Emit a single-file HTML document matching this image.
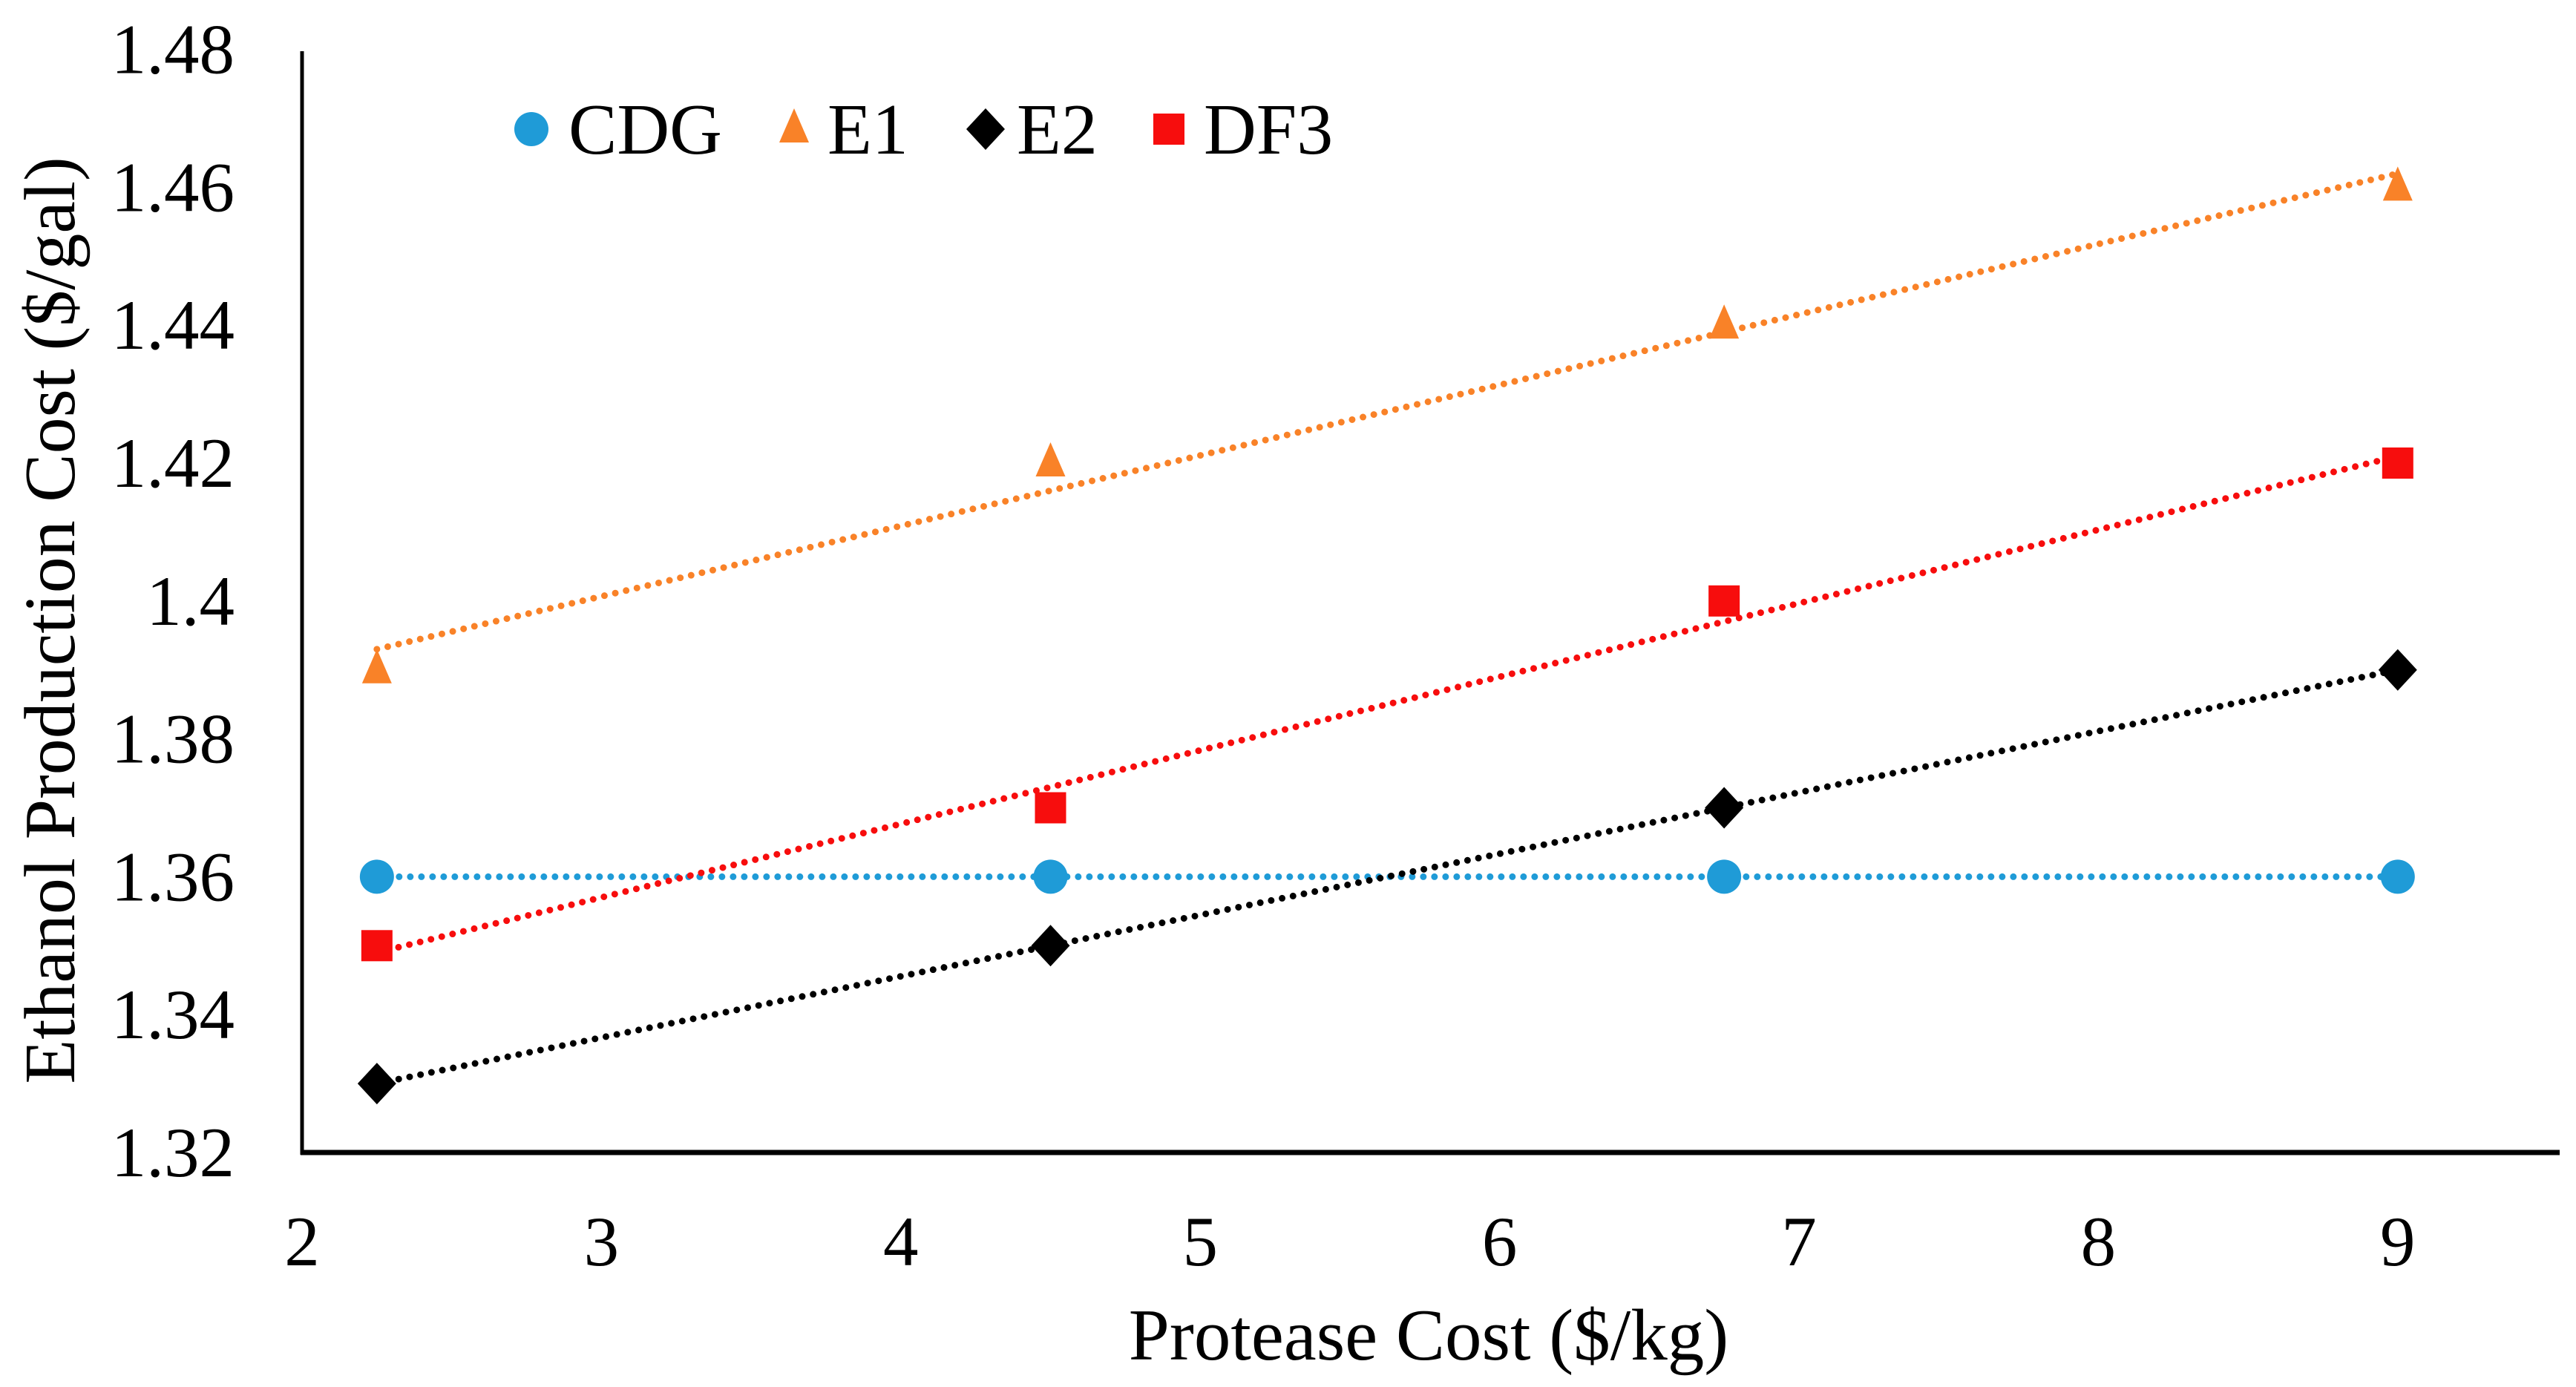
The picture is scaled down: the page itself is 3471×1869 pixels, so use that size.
<!DOCTYPE html>
<html><head><meta charset="utf-8"><style>
html,body{margin:0;padding:0;background:#fff;}
svg{display:block;font-family:"Liberation Serif",serif;}
</style></head><body>
<svg id="chart" width="3471" height="1869" viewBox="0 0 3471 1869" xmlns="http://www.w3.org/2000/svg">
</svg>
<script>
const xValues = [2.25, 4.5, 6.75, 9];
const cdg = [1.36, 1.36, 1.36, 1.36];
const e1 = [1.39, 1.42, 1.44, 1.46];
const e2 = [1.33, 1.35, 1.37, 1.39];
const df3 = [1.35, 1.37, 1.40, 1.42];
const xTicks = [2,3,4,5,6,7,8,9];
const yTicks = ["1.32","1.34","1.36","1.38","1.4","1.42","1.44","1.46","1.48"];

const NS="http://www.w3.org/2000/svg";
const svg=document.getElementById('chart');
const X0=407, XU=403.4, YB=1553, YMIN=1.32, YU=185.8/0.02;
const xs=v=>X0+(v-2)*XU;
const ys=v=>YB-(v-YMIN)*YU;
function mk(tag,attrs,parent){const e=document.createElementNS(NS,tag);for(const k in attrs)e.setAttribute(k,attrs[k]);(parent||svg).appendChild(e);return e;}

let ya=mk('line',{x1:X0,y1:69,x2:X0,y2:YB+3,stroke:'#000','stroke-width':5});


let xa=mk('line',{x1:X0-2,y1:YB,x2:3449,y2:YB,stroke:'#000','stroke-width':7});



yTicks.forEach(t=>{
  const e=mk('text',{x:316,y:ys(parseFloat(t))+32,'text-anchor':'end','font-size':95});
  e.textContent=t;
  
  
});
xTicks.forEach(t=>{
  const e=mk('text',{x:xs(t),y:1705,'text-anchor':'middle','font-size':95});
  e.textContent=t;
  
  
});
let xt=mk('text',{x:1925,y:1832,'text-anchor':'middle','font-size':99});
xt.textContent='Protease Cost ($/kg)';


let yt=mk('text',{x:0,y:0,'text-anchor':'middle','font-size':98,transform:'translate(100,836) rotate(-90)'});
yt.textContent='Ethanol Production Cost ($/gal)';



function fit(xv,yv){const n=xv.length;const mx=xv.reduce((a,b)=>a+b)/n,my=yv.reduce((a,b)=>a+b)/n;let sxy=0,sxx=0;for(let i=0;i<n;i++){sxy+=(xv[i]-mx)*(yv[i]-my);sxx+=(xv[i]-mx)**2;}const b=sxy/sxx;return [my-b*mx,b];}

function marker(shape,color,cx,cy,name){
  let e;
  if(shape==='circle') e=mk('circle',{cx,cy,r:23,fill:color});
  else if(shape==='tri') e=mk('polygon',{points:`${cx},${cy-28} ${cx+20},${cy+18} ${cx-20},${cy+18}`,fill:color});
  else if(shape==='diamond') e=mk('polygon',{points:`${cx},${cy-28} ${cx+26},${cy} ${cx},${cy+28} ${cx-26},${cy}`,fill:color});
  else e=mk('rect',{x:cx-21,y:cy-21,width:42,height:42,fill:color});
  
  
  return e;
}
const series=[
  {name:'CDG',data:cdg,color:'#1f9bd7',shape:'circle'},
  {name:'E1',data:e1,color:'#f98228',shape:'tri'},
  {name:'E2',data:e2,color:'#000000',shape:'diamond'},
  {name:'DF3',data:df3,color:'#f70d0d',shape:'rect'}
];
series.forEach(s=>{
  const [a,b]=fit(xValues,s.data);
  const x1=xValues[0],x2=xValues[xValues.length-1];
  const l=mk('line',{x1:xs(x1),y1:ys(a+b*x1),x2:xs(x2),y2:ys(a+b*x2),stroke:s.color,'stroke-width':9,'stroke-dasharray':'0 15','stroke-linecap':'round'});
  
  
});
series.forEach(s=>{
  s.data.forEach((v,i)=>marker(s.shape,s.color,xs(xValues[i]),ys(v),'point-'+s.name.toLowerCase()));
});
const legX=[716,1070,1328,1575], legTX=[766,1115,1370,1622];
series.forEach((s,i)=>{
  marker(s.shape,s.color,legX[i],174,'legend-marker-'+s.name.toLowerCase());
  const t=mk('text',{x:legTX[i],y:207,'font-size':98});
  t.textContent=s.name;
  
  
});
</script>
</body></html>
